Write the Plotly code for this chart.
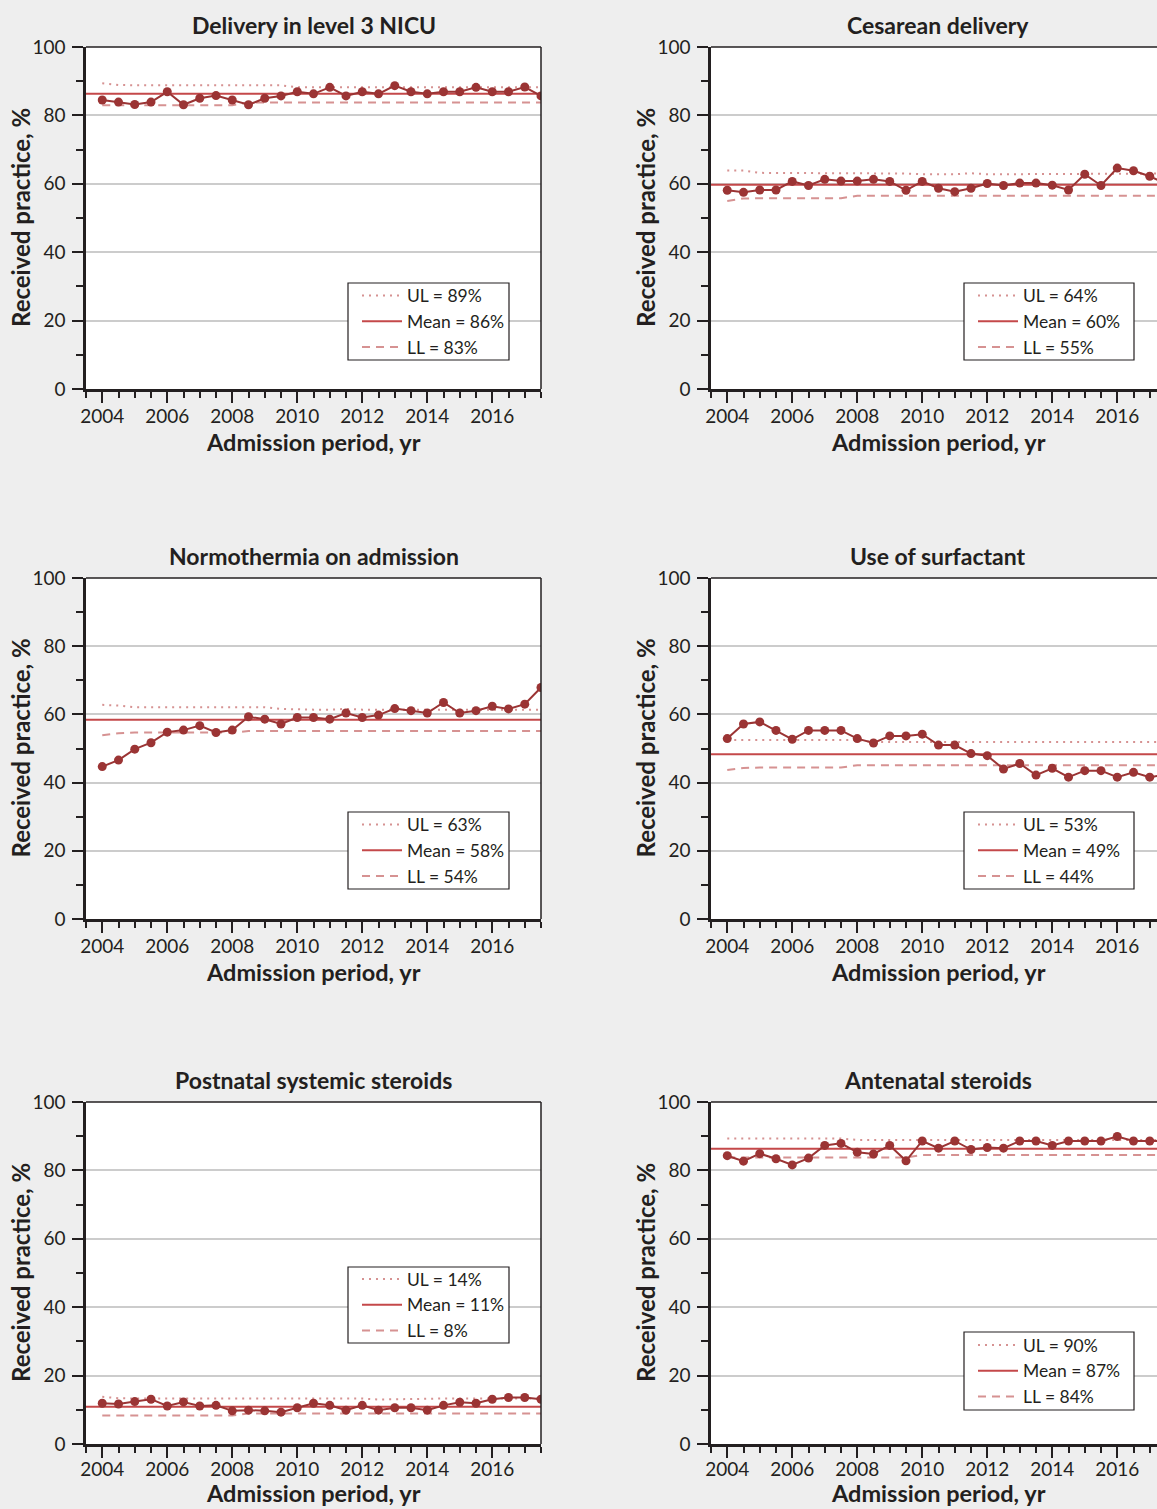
import plotly.graph_objects as go

# ---------------- data ----------------
periods = [2004.0, 2004.5, 2005.0, 2005.5, 2006.0, 2006.5, 2007.0, 2007.5, 2008.0, 2008.5,
           2009.0, 2009.5, 2010.0, 2010.5, 2011.0, 2011.5, 2012.0, 2012.5, 2013.0, 2013.5,
           2014.0, 2014.5, 2015.0, 2015.5, 2016.0, 2016.5, 2017.0, 2017.5]

titles = ["Delivery in level 3 NICU", "Cesarean delivery", "Normothermia on admission",
          "Use of surfactant", "Postnatal systemic steroids", "Antenatal steroids"]

nicu = [84.5, 83.9, 83.2, 83.9, 86.9, 83.1, 85.0, 85.8, 84.5, 83.1, 85.0, 85.7, 86.9, 86.3,
        88.2, 85.7, 86.9, 86.3, 88.7, 86.9, 86.3, 86.9, 86.9, 88.2, 86.9, 86.9, 88.3, 85.7]
nicu_ul = [89.4, 88.9, 88.8, 88.8, 88.8, 88.8, 88.8, 88.8, 88.8, 88.8, 88.8, 88.8, 88.2, 88.2,
           88.2, 88.2, 88.2, 88.2, 88.2, 88.2, 88.2, 88.2, 88.2, 88.2, 88.2, 88.2, 88.2, 88.2]
nicu_ll = [83.0, 83.0, 83.0, 83.0, 83.0, 83.0, 83.0, 83.0, 83.0, 83.8, 83.8, 83.8, 83.8, 83.8,
           83.8, 83.8, 83.8, 83.8, 83.8, 83.8, 83.8, 83.8, 83.8, 83.8, 83.8, 83.8, 83.8, 83.8]
nicu_mean = 86.3

ces = [58.1, 57.5, 58.2, 58.2, 60.7, 59.5, 61.3, 60.8, 60.8, 61.3, 60.7, 58.1, 60.7, 58.7,
       57.7, 58.7, 60.1, 59.5, 60.2, 60.2, 59.6, 58.2, 62.8, 59.5, 64.6, 63.8, 62.2, 60.0]
ces_ul = [63.9, 63.9, 63.2, 63.2, 63.2, 63.2, 63.2, 63.2, 63.2, 63.2, 63.2, 63.0, 62.8, 62.8,
          62.8, 63.1, 62.8, 62.8, 62.8, 62.8, 62.8, 62.8, 62.8, 63.0, 63.0, 63.0, 63.0, 63.0]
ces_ll = [55.0, 55.7, 55.8, 55.8, 55.8, 55.8, 55.8, 55.8, 56.5, 56.5, 56.5, 56.5, 56.5, 56.5,
          56.5, 56.5, 56.5, 56.5, 56.5, 56.5, 56.5, 56.5, 56.5, 56.5, 56.5, 56.5, 56.5, 56.5]
ces_mean = 59.7

normo = [44.7, 46.6, 49.8, 51.7, 54.8, 55.4, 56.7, 54.7, 55.4, 59.3, 58.6, 57.2, 59.1, 59.1,
         58.6, 60.4, 59.1, 59.8, 61.7, 61.1, 60.4, 63.5, 60.4, 61.1, 62.4, 61.6, 63.0, 67.9]
normo_ul = [62.8, 62.6, 62.1, 62.1, 62.1, 62.1, 62.1, 62.1, 62.1, 62.1, 62.1, 61.6, 61.4, 61.4,
            61.4, 61.6, 61.4, 61.4, 61.4, 61.4, 61.4, 61.4, 61.4, 61.4, 61.4, 61.4, 61.4, 61.4]
normo_ll = [53.9, 54.5, 54.7, 54.7, 54.7, 54.7, 54.7, 54.7, 54.7, 55.1, 55.1, 55.1, 55.1, 55.1,
            55.1, 55.1, 55.1, 55.1, 55.1, 55.1, 55.1, 55.1, 55.1, 55.1, 55.1, 55.1, 55.1, 55.1]
normo_mean = 58.4

surf = [52.9, 57.2, 57.8, 55.3, 52.7, 55.3, 55.3, 55.3, 52.9, 51.6, 53.7, 53.7, 54.2, 51.0,
        51.0, 48.5, 47.9, 44.0, 45.6, 42.2, 44.2, 41.6, 43.5, 43.5, 41.6, 43.0, 41.6, 42.3]
surf_ul = [52.5, 52.5, 52.5, 52.5, 52.5, 52.5, 52.5, 52.5, 52.5, 51.9, 51.9, 51.9, 51.9, 51.9,
           51.9, 51.9, 51.9, 51.9, 51.9, 51.9, 51.9, 51.9, 51.9, 51.9, 51.9, 51.9, 51.9, 51.9]
surf_ll = [43.7, 44.3, 44.4, 44.4, 44.4, 44.4, 44.4, 44.4, 45.1, 45.1, 45.1, 45.1, 45.1, 45.1,
           45.1, 45.1, 45.1, 45.1, 45.1, 45.1, 45.1, 45.1, 45.1, 45.1, 45.1, 45.1, 45.1, 45.1]
surf_mean = 48.3

post = [11.9, 11.7, 12.4, 13.1, 11.1, 12.3, 11.1, 11.3, 9.7, 9.9, 9.7, 9.3, 10.6, 11.9,
        11.3, 9.9, 11.3, 9.9, 10.6, 10.6, 9.9, 11.3, 12.2, 11.9, 13.1, 13.6, 13.6, 13.1]
post_ul = [13.8, 13.4, 13.3, 13.3, 13.3, 13.3, 13.3, 13.3, 13.3, 13.3, 13.3, 13.3, 13.3, 13.3,
           13.3, 13.3, 13.3, 13.0, 13.1, 13.3, 13.3, 13.3, 13.3, 13.3, 13.3, 13.3, 13.3, 13.3]
post_ll = [8.3, 8.3, 8.3, 8.3, 8.3, 8.3, 8.3, 8.3, 8.3, 8.9, 8.9, 8.9, 8.9, 8.9,
           8.9, 8.9, 8.9, 8.9, 8.9, 8.9, 8.9, 8.9, 8.9, 8.9, 8.9, 8.9, 8.9, 8.9]
post_mean = 10.9

ante = [84.3, 82.7, 84.9, 83.4, 81.6, 83.6, 87.3, 87.9, 85.3, 84.8, 87.3, 82.8, 88.6, 86.5,
        88.6, 86.1, 86.7, 86.5, 88.6, 88.6, 87.3, 88.6, 88.6, 88.6, 89.9, 88.6, 88.6, 88.6]
ante_ul = [89.3, 89.3, 89.3, 89.3, 89.3, 89.3, 89.3, 89.3, 88.9, 88.9, 88.9, 88.9, 88.9, 88.9,
           88.9, 88.9, 88.9, 88.9, 88.9, 88.9, 88.9, 88.9, 88.9, 88.9, 88.9, 88.9, 88.9, 88.9]
ante_ll = [83.8, 83.8, 83.8, 83.8, 83.8, 83.8, 83.8, 83.8, 83.8, 83.8, 83.8, 83.8, 84.5, 84.5,
           84.5, 84.5, 84.5, 84.5, 84.5, 84.5, 84.5, 84.5, 84.5, 84.5, 84.5, 84.5, 84.5, 84.5]
ante_mean = 86.3

legend_ul = ["UL = 89%", "UL = 64%", "UL = 63%", "UL = 53%", "UL = 14%", "UL = 90%"]
legend_mean = ["Mean = 86%", "Mean = 60%", "Mean = 58%", "Mean = 49%", "Mean = 11%", "Mean = 87%"]
legend_ll = ["LL = 83%", "LL = 55%", "LL = 54%", "LL = 44%", "LL = 8%", "LL = 84%"]

y_ticks = [0, 20, 40, 60, 80, 100]
x_ticks = [2004, 2006, 2008, 2010, 2012, 2014, 2016]

series = [(nicu, nicu_ul, nicu_ll, nicu_mean), (ces, ces_ul, ces_ll, ces_mean),
          (normo, normo_ul, normo_ll, normo_mean), (surf, surf_ul, surf_ll, surf_mean),
          (post, post_ul, post_ll, post_mean), (ante, ante_ul, ante_ll, ante_mean)]

# ---------------- layout geometry (pixels) ----------------
W, H = 1157, 1509
FONT = "Lato"
TXT = "#231f20"
C_DATA = "#9b3434"
C_MEAN = "#c4484a"
C_LIM = "#d69292"
BG = "#eeeeee"

cols = [(86, 541), (711, 1157)]
rows = [(47, 389), (578, 919), (1102, 1444)]
px_per_year = (541 - 86) / 14.0
x_lo = 2003.5
# legend boxes: left, top, right, bottom (pixels)
legend_box = [(348, 283, 509, 360), (964, 283, 1134, 360), (348, 812, 509, 889),
              (964, 812, 1134, 889), (348, 1267, 509, 1343), (964, 1332, 1134, 1410)]


def px(x):
    return x / W


def py(y):
    return 1 - y / H


fig = go.Figure()
annotations = []
shapes = []
layout_axes = {}

for i, (vals, ul, ll, mean) in enumerate(series):
    r, c = divmod(i, 2)
    x0, x1 = cols[c]
    y0, y1 = rows[r]
    n = i + 1
    xa = "x" if n == 1 else f"x{n}"
    ya = "y" if n == 1 else f"y{n}"
    lg = "legend" if n == 1 else f"legend{n}"
    x_hi = x_lo + (x1 - x0) / px_per_year

    fig.add_trace(go.Scatter(x=periods, y=ul, mode="lines", name=legend_ul[i],
                             line=dict(color=C_LIM, width=2, dash="2px,5px"),
                             xaxis=xa, yaxis=ya, legend=lg, hoverinfo="skip"))
    fig.add_trace(go.Scatter(x=[x_lo, x_lo + 14], y=[mean, mean], mode="lines",
                             name=legend_mean[i],
                             line=dict(color=C_MEAN, width=2),
                             xaxis=xa, yaxis=ya, legend=lg, hoverinfo="skip"))
    fig.add_trace(go.Scatter(x=periods, y=ll, mode="lines", name=legend_ll[i],
                             line=dict(color=C_LIM, width=2, dash="8px,6px"),
                             xaxis=xa, yaxis=ya, legend=lg, hoverinfo="skip"))
    fig.add_trace(go.Scatter(x=periods, y=vals, mode="lines+markers", showlegend=False,
                             line=dict(color=C_DATA, width=2),
                             marker=dict(color=C_DATA, size=9),
                             xaxis=xa, yaxis=ya))

    layout_axes["xaxis" if n == 1 else f"xaxis{n}"] = dict(
        domain=[px(x0), px(x1)], range=[x_lo, x_hi], anchor=ya,
        tickmode="array", tickvals=x_ticks, ticktext=[str(t) for t in x_ticks],
        ticks="outside", ticklen=11, tickwidth=2, tickcolor=TXT,
        ticklabelstandoff=(-5 if r == 2 else -3),
        minor=dict(dtick=0.5, tick0=2003.5, ticks="outside", ticklen=6, tickwidth=1.5,
                   tickcolor=TXT, showgrid=False),
        showgrid=False, zeroline=False, showline=True, linecolor=TXT, linewidth=2.5,
        tickfont=dict(family=FONT, size=19, color=TXT), automargin=False, fixedrange=True)
    layout_axes["yaxis" if n == 1 else f"yaxis{n}"] = dict(
        domain=[py(y1), py(y0)], range=[0, 100], anchor=xa,
        tickmode="array", tickvals=y_ticks, ticktext=[str(t) for t in y_ticks],
        ticks="outside", ticklen=11, tickwidth=2, tickcolor=TXT, ticklabelstandoff=3,
        minor=dict(dtick=10, tick0=0, ticks="outside", ticklen=7, tickwidth=1.5,
                   tickcolor=TXT, showgrid=False),
        showgrid=True, gridcolor="#cccccc", gridwidth=2,
        zeroline=False, showline=True, linecolor=TXT, linewidth=2.5,
        tickfont=dict(family=FONT, size=19, color=TXT), automargin=False, fixedrange=True)

    # top border (and right border where visible)
    shapes.append(dict(type="line", xref=f"{xa} domain", yref=f"{ya} domain",
                       x0=0, x1=1, y0=1, y1=1, line=dict(color=TXT, width=1.5), layer="above"))
    if c == 0:
        shapes.append(dict(type="line", xref=f"{xa} domain", yref=f"{ya} domain",
                           x0=1, x1=1, y0=0, y1=1, line=dict(color=TXT, width=1.5),
                           layer="above"))

    cx = (x0 + (x0 + 14 * px_per_year)) / 2
    annotations.append(dict(text=f"<b>{titles[i]}</b>", xref="paper", yref="paper",
                            x=px(cx), y=py(y0 - 22), xanchor="center", yanchor="middle",
                            showarrow=False, font=dict(family=FONT, size=23, color=TXT)))
    if r == 2:
        xt_y, xt_anchor = 0.0, "bottom"
    else:
        xt_y, xt_anchor = py(y1 + 53), "middle"
    annotations.append(dict(text="<b>Admission period, yr</b>", xref="paper", yref="paper",
                            x=px(cx), y=xt_y, xanchor="center", yanchor=xt_anchor,
                            showarrow=False, font=dict(family=FONT, size=23.5, color=TXT)))
    annotations.append(dict(text="<b>Received practice, %</b>", xref="paper", yref="paper",
                            x=px(x0 - 66), y=py((y0 + y1) / 2), xanchor="center",
                            yanchor="middle", textangle=-90, showarrow=False,
                            font=dict(family=FONT, size=24, color=TXT)))

    bl, bt, br, bb = legend_box[i]
    shapes.append(dict(type="rect", xref="paper", yref="paper",
                       x0=px(bl), x1=px(br), y0=py(bb), y1=py(bt),
                       fillcolor="white", line=dict(color=TXT, width=1.2), layer="above"))
    layout_axes[lg] = dict(x=px(bl + 9), y=py((bt + bb) / 2), xanchor="left", yanchor="middle",
                           bgcolor="rgba(0,0,0,0)", borderwidth=0,
                           font=dict(family=FONT, size=17.5, color=TXT),
                           tracegroupgap=0, itemwidth=40)

fig.update_layout(
    width=W, height=H, margin=dict(l=0, r=0, t=0, b=0, pad=0, autoexpand=False),
    paper_bgcolor=BG, plot_bgcolor="white",
    showlegend=True, annotations=annotations, shapes=shapes,
    font=dict(family=FONT, color=TXT),
    **layout_axes,
)

fig.write_html("out.html", config={"displayModeBar": False},
               post_script="document.body.style.margin='0';document.body.style.overflow='hidden';")
